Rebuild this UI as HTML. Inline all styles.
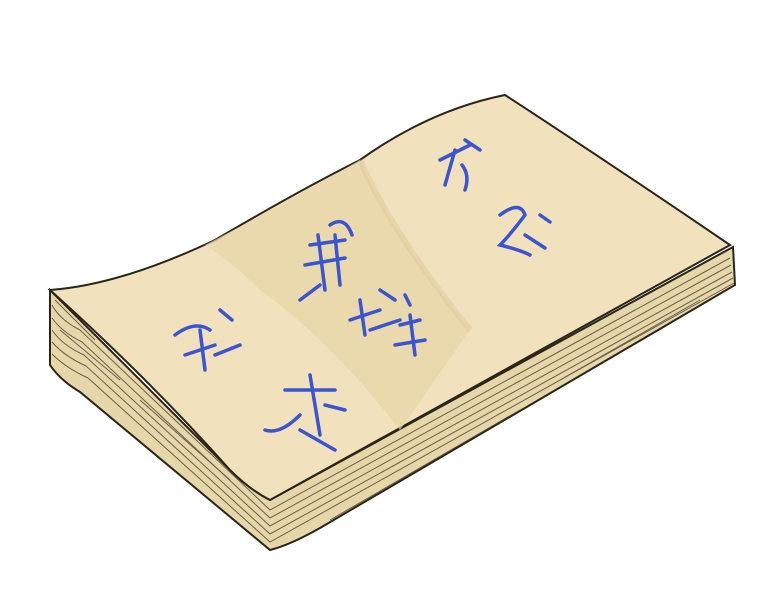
<!DOCTYPE html>
<html><head><meta charset="utf-8"><style>
html,body{margin:0;padding:0;background:#fff;width:773px;height:604px;overflow:hidden}
svg{display:block}
</style></head><body>
<svg width="773" height="604" viewBox="0 0 773 604">
  <path d="M50,290 L50,365 Q60,380 80,392 L270,550 Q290,545 320,528 L735,285 L733,247 L270,500 Q250,490 230,470 Z" fill="#e6d7ab" stroke="#2a2518" stroke-width="2"/>
  <g stroke="#4a4030" stroke-width="1" fill="none" opacity="0.8">
    <path d="M52,305 Q60,320 80,330 L270,510 L730,258"/>
    <path d="M52,318 Q62,332 82,342 L270,518 L731,265"/>
    <path d="M52,330 Q62,345 84,355 L270,526 L732,272"/>
    <path d="M52,342 Q64,356 86,366 L270,534 L733,278"/>
    <path d="M52,354 Q66,368 88,378 L270,542 L734,283"/>
    <path d="M55,300 L95,340 M60,330 L120,380 M140,400 L230,480 M330,520 L520,410 M560,380 L700,300"/>
  </g>
  <path d="M50,290 Q120,285 215,240 Q300,190 360,160 Q430,110 505,95 Q620,170 730,245 L270,500 Q250,490 230,470 Q150,380 50,290 Z" fill="#f1e2bd" stroke="#2a2518" stroke-width="2"/>
  <path d="M205,245 Q300,195 360,160 Q390,230 470,330 L400,430 Q330,340 260,290 Q230,260 205,245 Z" fill="#e6d4a5" opacity="0.65"/>
  <path d="M360,160 Q390,230 470,330" stroke="#d9c692" stroke-width="6" fill="none" opacity="0.4"/>
  <g stroke="#3b54d0" stroke-width="3.5" fill="none" stroke-linecap="round">
    <path d="M440,160 Q460,150 470,145 M455,150 L445,185 M462,165 Q470,175 465,190 M465,140 L480,150"/>
    <path d="M500,215 Q520,200 525,215 Q510,235 500,245 Q520,250 530,255 M540,215 L550,222 M525,235 L545,248"/>
    <path d="M310,245 L345,240 M305,265 L345,258 M318,235 L325,290 M335,235 L340,285 M330,225 Q345,215 352,235 M300,300 L320,285"/>
    <path d="M350,320 L380,310 M360,300 L365,335 M380,290 L395,300 M370,330 L400,320"/>
    <path d="M405,295 L410,305 M400,325 L420,320 M410,315 L415,355 M395,345 L425,340"/>
    <path d="M175,335 Q195,320 210,330 M185,355 L215,345 M200,330 L205,370 M220,310 L232,320 M215,355 L240,345"/>
    <path d="M285,390 L335,390 M310,375 L320,435 M300,415 Q280,435 265,430 M325,405 L345,410 M300,430 L335,450"/>
  </g>
</svg>
</body></html>
